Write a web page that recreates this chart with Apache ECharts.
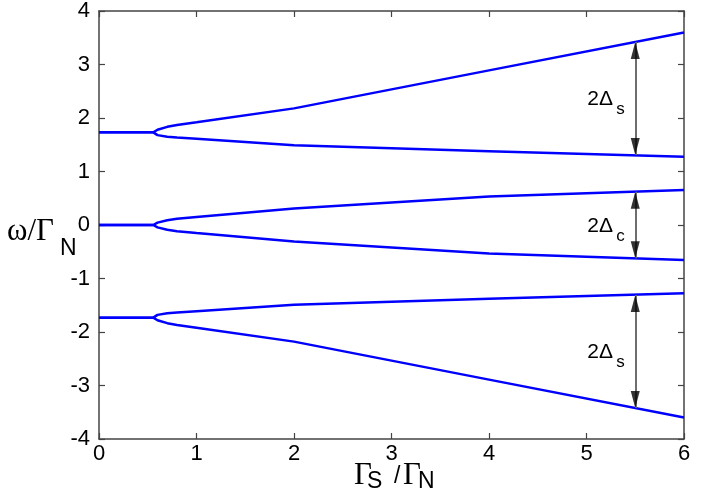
<!DOCTYPE html>
<html>
<head>
<meta charset="utf-8">
<script src="https://cdn.jsdelivr.net/npm/echarts@6/dist/echarts.min.js"></script>
<style>html,body{margin:0;padding:0;background:#fff;}#c{width:706px;height:494px;}</style>
</head>
<body>
<div id="c"></div>
<script>
var xs        = [0, 0.557, 0.6, 0.7, 0.8, 1, 2, 4, 6];
var topUpper  = [1.732, 1.732, 1.78, 1.835, 1.87, 1.92, 2.18, 2.89, 3.6];
var topLower  = [1.732, 1.732, 1.68, 1.65, 1.635, 1.61, 1.49, 1.38, 1.275];
var midUpper  = [0, 0, 0.045, 0.09, 0.115, 0.15, 0.31, 0.535, 0.655];
var midLower  = [0, 0, -0.045, -0.09, -0.115, -0.15, -0.31, -0.535, -0.655];
var botUpper  = [-1.732, -1.732, -1.68, -1.65, -1.635, -1.61, -1.49, -1.38, -1.275];
var botLower  = [-1.732, -1.732, -1.78, -1.835, -1.87, -1.92, -2.18, -2.89, -3.6];
var xTicks = [0, 1, 2, 3, 4, 5, 6];
var yTicks = [-4, -3, -2, -1, 0, 1, 2, 3, 4];
var arrowX = 5.5;
var arrowTops    = [3.42, 0.62, -1.31];
var arrowBottoms = [1.31, -0.62, -3.42];
var gapLabels = [
  {main: '2\u0394', sub: 's'},
  {main: '2\u0394', sub: 'c'},
  {main: '2\u0394', sub: 's'}
];

function pairs(a) { return xs.map(function (x, i) { return [x, a[i]]; }); }

var lineSeries = [topUpper, topLower, midUpper, midLower, botUpper, botLower].map(function (arr) {
  return {
    type: 'line', data: pairs(arr), symbol: 'none', smooth: false,
    lineStyle: {color: '#0000ff', width: 2.5}, z: 3
  };
});

var greyLines = arrowTops.map(function (t, i) {
  return [{coord: [arrowX, t]}, {coord: [arrowX, arrowBottoms[i]]}];
});

var headsUp = arrowTops.map(function (t) { return [arrowX, t]; });
var headsDown = arrowBottoms.map(function (b) { return [arrowX, b]; });

var series = lineSeries.concat([
  {
    type: 'scatter', data: headsUp, symbol: 'triangle', symbolSize: [9, 17],
    symbolOffset: [0, 8.5], itemStyle: {color: '#000'}, z: 5, silent: true,
    markLine: {
      silent: true, symbol: ['none', 'none'], label: {show: false},
      lineStyle: {color: '#6e6e6e', width: 2, type: 'solid'},
      data: greyLines, z: 4
    }
  },
  {
    type: 'scatter', data: headsDown, symbol: 'triangle', symbolSize: [9, 17],
    symbolRotate: 180, symbolOffset: [0, -8.5], itemStyle: {color: '#000'}, z: 5, silent: true
  }
]);

function axisCommon() {
  return {
    axisLine: {show: true, onZero: false, lineStyle: {color: '#444', width: 1.5}},
    axisTick: {show: true, inside: true, length: 6, lineStyle: {color: '#444', width: 1.2}},
    splitLine: {show: false}
  };
}

var tickFont = {fontFamily: 'Liberation Sans', fontSize: 22, color: '#000'};

var option = {
  animation: false,
  backgroundColor: '#fff',
  grid: {left: 99, right: 22, top: 10, bottom: 55, containLabel: false},
  xAxis: [
    Object.assign({type: 'value', min: xTicks[0], max: xTicks[xTicks.length - 1], interval: 1, position: 'bottom',
      axisLabel: Object.assign({margin: 4, formatter: function (v) { return String(v); }}, tickFont)}, axisCommon()),
    Object.assign({type: 'value', min: xTicks[0], max: xTicks[xTicks.length - 1], interval: 1, position: 'top',
      axisLabel: {show: false}}, axisCommon())
  ],
  yAxis: [
    Object.assign({type: 'value', min: yTicks[0], max: yTicks[yTicks.length - 1], interval: 1, position: 'left',
      axisLabel: Object.assign({margin: 9, formatter: function (v) { return String(v); }}, tickFont)}, axisCommon()),
    Object.assign({type: 'value', min: yTicks[0], max: yTicks[yTicks.length - 1], interval: 1, position: 'right',
      axisLabel: {show: false}}, axisCommon())
  ],
  series: series,
  graphic: []
};

var chart = echarts.init(document.getElementById('c'), null, {renderer: 'canvas'});
chart.setOption(option);

var serif = 'Liberation Serif', sans = 'Liberation Sans';
function txt(text, x, y, font, size) {
  return {type: 'text', x: x, y: y, z: 10, silent: true,
    style: {text: text, fontFamily: font, fontSize: size, fill: '#000', align: 'left', verticalAlign: 'middle'}};
}
var g = [];
g.push(txt('\u03c9/\u0393', 7, 232, serif, 31));
g.push(txt('N', 60, 249, sans, 23));
g.push(txt('\u0393', 354, 476, serif, 31));
g.push(txt('S', 367, 482, sans, 23));
g.push(txt('/', 394, 477, sans, 23));
g.push(txt('\u0393', 403, 476, serif, 31));
g.push(txt('N', 418, 482, sans, 23));
gapLabels.forEach(function (lab, i) {
  var mid = (arrowTops[i] + arrowBottoms[i]) / 2;
  var p = chart.convertToPixel({xAxisIndex: 0, yAxisIndex: 0}, [arrowX, mid]);
  g.push(txt(lab.main, p[0] - 48, p[1] + 1, sans, 21));
  g.push(txt(lab.sub, p[0] - 19, p[1] + 11, sans, 17));
});
chart.setOption({graphic: g});
</script>
</body>
</html>
